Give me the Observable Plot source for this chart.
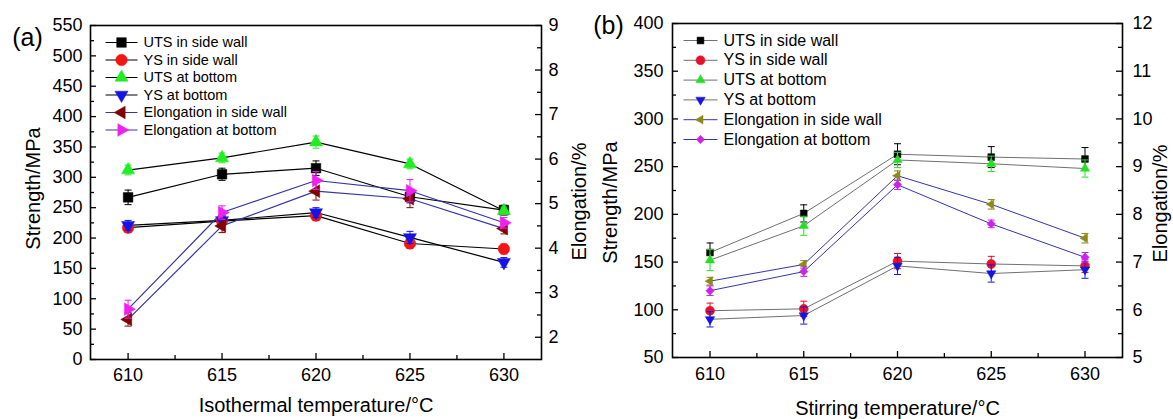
<!DOCTYPE html>
<html><head><meta charset="utf-8">
<script src="https://cdn.jsdelivr.net/npm/d3@7"></script>
<script src="https://cdn.jsdelivr.net/npm/@observablehq/plot@0.6"></script>
<style>
body{margin:0;background:#fff;}
#wrap{position:relative;width:1173px;height:419px;overflow:hidden;}
.layer{position:absolute;top:0;}
.layer svg{overflow:visible;}
</style></head><body><div id="wrap"></div>
<script>
// ---------- data ----------
const temps = [610, 615, 620, 625, 630];
const tempTicks = [610, 615, 620, 625, 630];
const tempMinorTicks = [612.5, 617.5, 622.5, 627.5];
const seriesNames = ["UTS in side wall", "YS in side wall", "UTS at bottom", "YS at bottom", "Elongation in side wall", "Elongation at bottom"];

// Panel (a): isothermal temperature
const aUtsSide = [267, 305, 315, 268, 246];
const aUtsSideErr = [12, 10, 12, 10, 8];
const aYsSide = [217, 228, 237, 191, 182];
const aYsSideErr = [8, 8, 8, 8, 8];
const aUtsBottom = [312, 332, 358, 322, 245];
const aUtsBottomErr = [8, 8, 10, 8, 6];
const aYsBottom = [221, 229, 242, 201, 160];
const aYsBottomErr = [8, 8, 8, 10, 8];
const aElongSide = [2.4, 4.5, 5.28, 5.11, 4.44];
const aElongSideErr = [0.15, 0.15, 0.2, 0.2, 0.12];
const aElongBottom = [2.63, 4.8, 5.52, 5.29, 4.57];
const aElongBottomErr = [0.2, 0.15, 0.2, 0.25, 0.12];
const aStrengthTicks = [0, 50, 100, 150, 200, 250, 300, 350, 400, 450, 500, 550];
const aStrengthMinor = [25, 75, 125, 175, 225, 275, 325, 375, 425, 475, 525];
const aElongTicks = [2, 3, 4, 5, 6, 7, 8, 9];
const aElongMinor = [2.5, 3.5, 4.5, 5.5, 6.5, 7.5, 8.5];

// Panel (b): stirring temperature
const bUtsSide = [160, 201, 263, 260, 258];
const bUtsSideErr = [10, 9, 11, 11, 12];
const bYsSide = [99, 101, 151, 148, 146];
const bYsSideErr = [8, 8, 8, 8, 7];
const bUtsBottom = [152, 188, 257, 253, 248];
const bUtsBottomErr = [11, 10, 8, 8, 9];
const bYsBottom = [90, 94, 146, 138, 142];
const bYsBottomErr = [8, 9, 9, 9, 9];
const bElongSide = [6.6, 6.95, 8.81, 8.21, 7.5];
const bElongSideErr = [0.08, 0.08, 0.1, 0.1, 0.1];
const bElongBottom = [6.4, 6.8, 8.62, 7.8, 7.1];
const bElongBottomErr = [0.1, 0.1, 0.1, 0.08, 0.1];
const bStrengthTicks = [50, 100, 150, 200, 250, 300, 350, 400];
const bStrengthMinor = [75, 125, 175, 225, 275, 325, 375];
const bElongTicks = [5, 6, 7, 8, 9, 10, 11, 12];
const bElongMinor = [5.5, 6.5, 7.5, 8.5, 9.5, 10.5, 11.5];

// ---------- symbols ----------
const rad = size => Math.sqrt(size / Math.PI);
function triSymbol(deg) {
  return {draw(ctx, size) {
    const R = rad(size) * 1.2, a0 = deg * Math.PI / 180;
    for (let k = 0; k < 3; k++) {
      const a = a0 + k * 2 * Math.PI / 3, x = R * Math.cos(a), y = R * Math.sin(a);
      if (k) ctx.lineTo(x, y); else ctx.moveTo(x, y);
    }
    ctx.closePath();
  }};
}
const symSquare = {draw(ctx, size) { const h = rad(size); ctx.rect(-h, -h, 2 * h, 2 * h); }};
const symDiamond = {draw(ctx, size) { const h = rad(size); ctx.moveTo(0, -h); ctx.lineTo(h, 0); ctx.lineTo(0, h); ctx.lineTo(-h, 0); ctx.closePath(); }};
const symHLine = {draw(ctx, size) { const h = rad(size); ctx.moveTo(-h, 0); ctx.lineTo(h, 0); }};
const symUp = triSymbol(-90), symDown = triSymbol(90), symLeft = triSymbol(180), symRight = triSymbol(0);

const FONT = "'Liberation Sans', Arial, sans-serif";
const intFmt = d => String(d);

function rowsOf(vals, errs) { return temps.map((t, i) => ({t, v: vals[i], e: errs[i]})); }

function seriesMarks(list, lw) {
  const m = [];
  for (const s of list) m.push(Plot.line(rowsOf(s.v, s.e), {x: "t", y: "v", stroke: s.line, strokeWidth: lw}));
  for (const s of list) {
    const rows = rowsOf(s.v, s.e);
    m.push(Plot.ruleX(rows, {x: "t", y1: d => d.v - d.e, y2: d => d.v + d.e, stroke: s.color, strokeWidth: 1}));
    m.push(Plot.dot(rows, {x: "t", y: d => d.v + d.e, symbol: symHLine, r: 3.5, stroke: s.color, fill: "none", strokeWidth: 1}));
    m.push(Plot.dot(rows, {x: "t", y: d => d.v - d.e, symbol: symHLine, r: 3.5, stroke: s.color, fill: "none", strokeWidth: 1}));
    m.push(Plot.dot(rows, {x: "t", y: "v", symbol: s.symbol, r: s.r, fill: s.color, stroke: s.color, strokeWidth: 0.5}));
  }
  return m;
}

function buildPanel(p) {
  const W = p.width, H = 419;
  const plotW = W - p.ml - p.mr, plotH = H - p.mt - p.mb;
  const base = {width: W, height: H, marginLeft: p.ml, marginRight: p.mr, marginTop: p.mt, marginBottom: p.mb,
    style: {background: "transparent", fontFamily: FONT, fontSize: "18px", color: "black", overflow: "visible"}};
  const all = p.strength.concat(p.elong);

  // legend marks
  const leg = [];
  all.forEach((s, i) => {
    const dy = p.legTop + p.legStep * i;
    leg.push(Plot.dot([0], {frameAnchor: "top-left", dx: p.legX, dy, symbol: symHLine, r: p.legHalf, stroke: s.line, fill: "none", strokeWidth: 1}));
    leg.push(Plot.dot([0], {frameAnchor: "top-left", dx: p.legX, dy, symbol: s.symbol, r: s.r, fill: s.color, stroke: s.color, strokeWidth: 0.5}));
    leg.push(Plot.text([seriesNames[i]], {frameAnchor: "top-left", dx: p.legTextX, dy, text: d => d, textAnchor: "start", lineAnchor: "middle", fontSize: p.legFont, fill: "black"}));
  });

  const strengthPlot = Plot.plot({
    ...base,
    x: {type: "linear", domain: p.xDomain},
    y: {type: "linear", domain: p.sDomain},
    marks: [
      Plot.axisX({ticks: tempTicks, tickSize: 0, tickPadding: p.xPad, label: null, fontSize: 18, tickFormat: intFmt}),
      Plot.axisY({ticks: p.sTicks, tickSize: 0, tickPadding: p.yPad, label: null, fontSize: 18, tickFormat: intFmt}),
      Plot.tickX(tempTicks, {x: d => d, insetTop: plotH - 6, stroke: "black", strokeWidth: 1.3}),
      Plot.tickX(tempMinorTicks, {x: d => d, insetTop: plotH - 4, stroke: "black", strokeWidth: 1.3}),
      Plot.tickY(p.sTicks, {y: d => d, insetRight: plotW - 6, stroke: "black", strokeWidth: 1.3}),
      Plot.tickY(p.sMinor, {y: d => d, insetRight: plotW - 4, stroke: "black", strokeWidth: 1.3}),
      ...seriesMarks(p.strength, p.lw),
      ...leg,
      Plot.frame({stroke: "black", strokeWidth: 1.6}),
      Plot.text([p.xTitle], {frameAnchor: "bottom", dy: p.xTitleDy, text: d => d, textAnchor: "middle", lineAnchor: "middle", fontSize: 20, fill: "black"}),
      Plot.text(["Strength/MPa"], {frameAnchor: "left", dx: p.sTitleDx, dy: p.sTitleDy, rotate: -90, text: d => d, textAnchor: "middle", lineAnchor: "middle", fontSize: 20, fill: "black"}),
      Plot.text([p.tag], {frameAnchor: "top-left", dx: p.tagDx, dy: p.tagDy, text: d => d, textAnchor: "middle", lineAnchor: "middle", fontSize: 25, fill: "black"})
    ]
  });

  const elongPlot = Plot.plot({
    ...base,
    x: {type: "linear", domain: p.xDomain, axis: null},
    y: {type: "linear", domain: p.eDomain},
    marks: [
      Plot.axisY({anchor: "right", ticks: p.eTicks, tickSize: 0, tickPadding: p.ePad, label: null, fontSize: 18, tickFormat: intFmt}),
      Plot.tickY(p.eTicks, {y: d => d, insetLeft: plotW - 6, stroke: "black", strokeWidth: 1.3}),
      Plot.tickY(p.eMinor, {y: d => d, insetLeft: plotW - 4, stroke: "black", strokeWidth: 1.3}),
      ...seriesMarks(p.elong, p.lw),
      Plot.text(["Elongation/%"], {frameAnchor: "right", dx: p.eTitleDx, dy: p.eTitleDy, rotate: -90, text: d => d, textAnchor: "middle", lineAnchor: "middle", fontSize: 20, fill: "black"})
    ]
  });

  for (const svg of [strengthPlot, elongPlot]) {
    const d = document.createElement("div");
    d.className = "layer";
    d.style.left = p.left + "px";
    d.style.width = W + "px";
    d.appendChild(svg);
    document.getElementById("wrap").appendChild(d);
  }
}

buildPanel({
  tag: "(a)", left: 0, width: 590, ml: 90, mr: 49, mt: 25, mb: 60,
  xDomain: [608, 632], sDomain: [0, 550], eDomain: [1.5, 9],
  sTicks: aStrengthTicks, sMinor: aStrengthMinor, eTicks: aElongTicks, eMinor: aElongMinor,
  xPad: 9, yPad: 8, ePad: 7, lw: 1.2,
  xTitle: "Isothermal temperature/°C", xTitleDy: 46,
  sTitleDx: -57, sTitleDy: -4, eTitleDx: 38, eTitleDy: 9, tagDx: -63, tagDy: 12,
  legTop: 17, legStep: 17.5, legX: 31, legHalf: 16, legTextX: 53, legFont: 14.5,
  strength: [
    {v: aUtsSide, e: aUtsSideErr, color: "#000000", line: "#000000", symbol: symSquare, r: 4.8},
    {v: aYsSide, e: aYsSideErr, color: "#f41414", line: "#000000", symbol: "circle", r: 5.8},
    {v: aUtsBottom, e: aUtsBottomErr, color: "#22ec22", line: "#000000", symbol: symUp, r: 6.3},
    {v: aYsBottom, e: aYsBottomErr, color: "#1414e8", line: "#000000", symbol: symDown, r: 6.3}
  ],
  elong: [
    {v: aElongSide, e: aElongSideErr, color: "#800000", line: "#3535a8", symbol: symLeft, r: 6.1},
    {v: aElongBottom, e: aElongBottomErr, color: "#f020f0", line: "#3535a8", symbol: symRight, r: 6.1}
  ]
});

buildPanel({
  tag: "(b)", left: 590, width: 583, ml: 82, mr: 51, mt: 23, mb: 62,
  xDomain: [608, 632], sDomain: [50, 400], eDomain: [5, 12],
  sTicks: bStrengthTicks, sMinor: bStrengthMinor, eTicks: bElongTicks, eMinor: bElongMinor,
  xPad: 10, yPad: 9, ePad: 10, lw: 1,
  xTitle: "Stirring temperature/°C", xTitleDy: 51,
  sTitleDx: -62, sTitleDy: 12, eTitleDx: 38, eTitleDy: 13, tagDx: -64, tagDy: 2,
  legTop: 17, legStep: 19.8, legX: 28, legHalf: 17, legTextX: 51, legFont: 16,
  strength: [
    {v: bUtsSide, e: bUtsSideErr, color: "#000000", line: "#707070", symbol: symSquare, r: 3.4},
    {v: bYsSide, e: bYsSideErr, color: "#e8102a", line: "#707070", symbol: "circle", r: 4.5},
    {v: bUtsBottom, e: bUtsBottomErr, color: "#22e022", line: "#707070", symbol: symUp, r: 4.5},
    {v: bYsBottom, e: bYsBottomErr, color: "#1515e0", line: "#707070", symbol: symDown, r: 4.5}
  ],
  elong: [
    {v: bElongSide, e: bElongSideErr, color: "#8a8a14", line: "#3434b0", symbol: symLeft, r: 4.2},
    {v: bElongBottom, e: bElongBottomErr, color: "#cc22ee", line: "#3434b0", symbol: symDiamond, r: 4.2}
  ]
});
</script></body></html>
